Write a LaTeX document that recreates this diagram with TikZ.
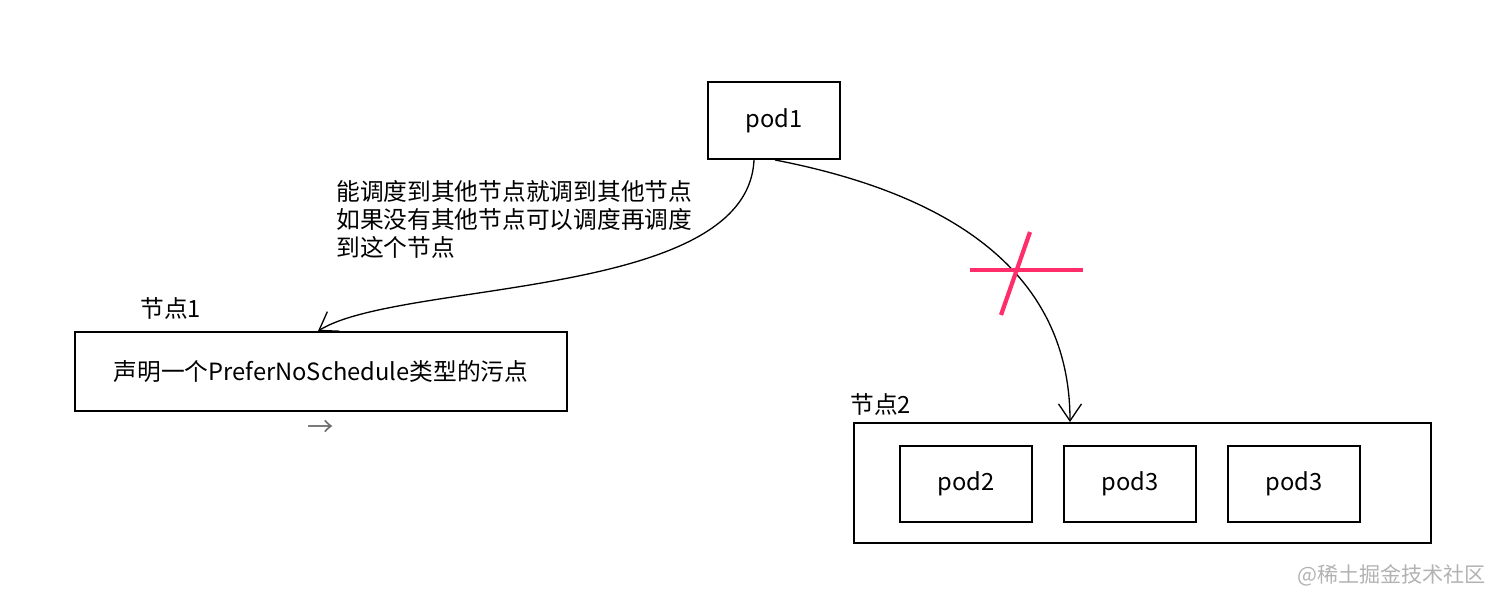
\documentclass[tikz,border=0pt]{standalone}
\usepackage{fontspec}
\setmainfont{Noto Sans CJK SC}
\usepackage{tikz}
\usetikzlibrary{positioning}
\usetikzlibrary{arrows.meta}
\definecolor{crossred}{HTML}{FF2D6A}

\begin{document}
\begin{tikzpicture}[
  font=\fontsize{13.5}{16}\selectfont, >={Straight Barb[length=0.34cm,width=0.46cm]},
  box/.style={draw, line width=1.1pt, inner sep=0pt},
  podbox/.style={box, minimum width=2.64cm, minimum height=1.52cm},
  label/.style={anchor=west, inner sep=0pt},
  edge/.style={->, line width=0.75pt},
  cross/.style={crossred, line width=2.4pt}
]
\useasboundingbox (0,0) rectangle (30.24,-12.08);

% pod1
\node[podbox, minimum height=1.54cm] (pod1) at (15.48,-2.41) {pod1};

% node 1
\node[box, minimum width=9.84cm, minimum height=1.58cm] (node1) at (6.42,-7.43) {声明一个PreferNoSchedule类型的污点};
\node[label] (node1_label) at (2.8,-6.16) {节点1};
\node[text=gray!85!black, font=\fontsize{15}{16}\selectfont] (node1_mark) at (6.42,-8.56) {→};

% node 2 with pods
\node[box, minimum width=11.54cm, minimum height=2.4cm] (node2) at (22.85,-9.66) {};
\node[label] (node2_label) at (17.0,-8.08) {节点2};
\node[podbox] (pod2) at (19.32,-9.68) {pod2};
\node[podbox, right=0.6cm of pod2] (pod3a) {pod3};
\node[podbox, right=0.6cm of pod3a] (pod3b) {pod3};

% annotation
\node[anchor=north west, inner sep=0pt, align=left] (note) at (6.72,-3.6) {能调度到其他节点就调到其他节点\\如果没有其他节点可以调度再调度\\到这个节点};

% scheduling paths
\draw[edge] ([xshift=-0.4cm]pod1.south) .. controls (14.95,-6.0) and (8.0,-5.6) .. ([xshift=-0.06cm]node1.north);
\draw[edge] ([xshift=0.02cm]pod1.south) .. controls (18.6,-3.8) and (21.4,-5.2) .. ([xshift=-1.45cm]node2.north);

% red cross
\coordinate (cross_l) at (19.4,-5.4);
\coordinate (cross_r) at (21.66,-5.4);
\coordinate (cross_b) at (20.02,-6.3);
\coordinate (cross_t) at (20.6,-4.64);
\draw[cross] (cross_l) -- (cross_r);
\draw[cross] (cross_b) -- (cross_t);

% watermark
\node[anchor=east, text=gray!60, font=\fontsize{12}{14}\selectfont] (mark) at (29.84,-11.5) {@稀土掘金技术社区};

\end{tikzpicture}
\end{document}
